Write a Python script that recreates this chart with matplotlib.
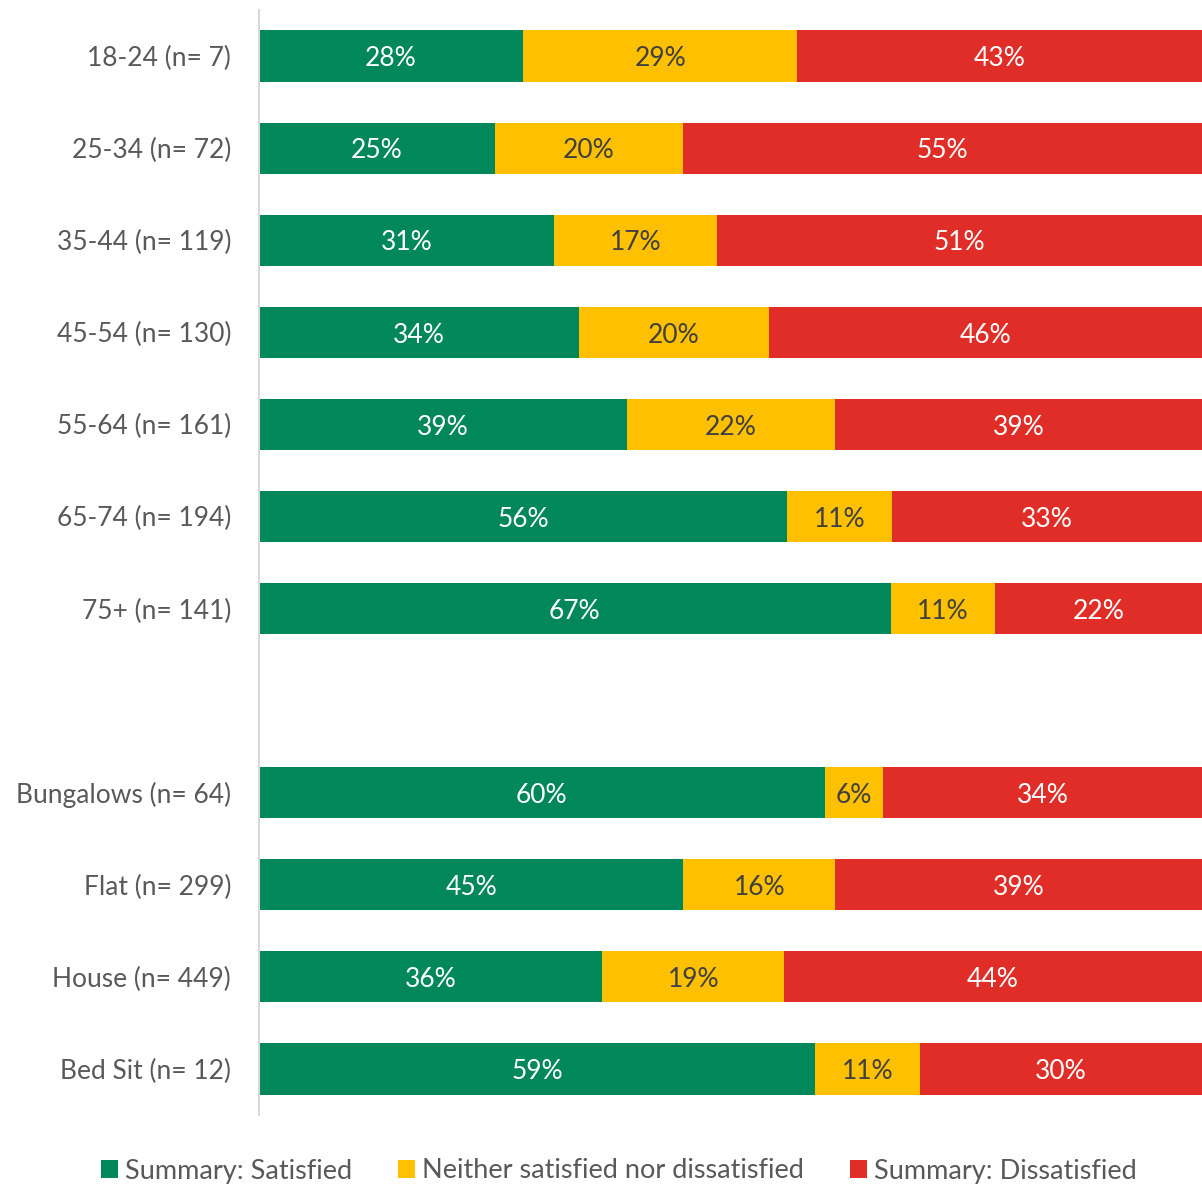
import matplotlib
matplotlib.use("Agg")
import matplotlib.pyplot as plt
from matplotlib.patches import Patch
import numpy as np

plt.rcParams['font.family'] = ['Lato', 'DejaVu Sans']

categories = ["18-24 (n= 7)", "25-34 (n= 72)", "35-44 (n= 119)", "45-54 (n= 130)",
              "55-64 (n= 161)", "65-74 (n= 194)", "75+ (n= 141)", "",
              "Bungalows (n= 64)", "Flat (n= 299)", "House (n= 449)", "Bed Sit (n= 12)"]
satisfied = [28.0, 25.0, 31.3, 33.9, 39.0, 56.0, 67.0, np.nan, 60.0, 45.0, 36.4, 59.0]
neither = [29.1, 20.0, 17.3, 20.2, 22.1, 11.1, 11.0, np.nan, 6.2, 16.1, 19.3, 11.1]
dissatisfied = [42.9, 55.0, 51.4, 45.9, 38.9, 32.9, 22.0, np.nan, 33.8, 38.9, 44.3, 29.9]
series_names = ["Summary: Satisfied", "Neither satisfied nor dissatisfied", "Summary: Dissatisfied"]

colors = ["#00875A", "#FFC000", "#E12D28"]
text_colors = ["white", "#404040", "white"]

W, H = 1202, 1188
fig = plt.figure(figsize=(W / 100, H / 100), dpi=100)
ax = fig.add_axes([259 / W, 1 - 1115 / H, 1 - 259 / W, (1115 - 10) / H])

y = np.arange(len(categories))
left = np.zeros(len(categories))
for vals, c, tc in zip([satisfied, neither, dissatisfied], colors, text_colors):
    v = np.array(vals, dtype=float)
    vv = np.nan_to_num(v)
    ax.barh(y, vv, left=left, height=0.555, color=c, edgecolor='none')
    for yi, (l, w) in enumerate(zip(left, v)):
        if not np.isnan(w):
            ax.text(l + w / 2, yi + 0.03, f"{w:.0f}%", ha='center', va='center',
                    color=tc, fontsize=19)
    left = left + vv

ax.set_xlim(0, 100)
ax.set_ylim(len(categories) - 0.5, -0.5)
ax.set_yticks(y)
ax.set_yticklabels(categories, fontsize=19, color="#595959")
ax.tick_params(axis='y', length=0, pad=20)
ax.set_xticks([])
for s in ['top', 'right', 'bottom']:
    ax.spines[s].set_visible(False)
ax.spines['left'].set_color("#D9D9D9")
ax.spines['left'].set_linewidth(1.5)

handles = [Patch(facecolor=c, edgecolor='none') for c in colors]
fig.legend(handles, series_names, loc='center', bbox_to_anchor=(0.515, 1 - 1171 / H),
           ncol=3, frameon=False, fontsize=19.5, labelcolor="#595959",
           handlelength=0.63, handleheight=0.63, handletextpad=0.25, columnspacing=1.7)

fig.savefig("out.png", dpi=100)
